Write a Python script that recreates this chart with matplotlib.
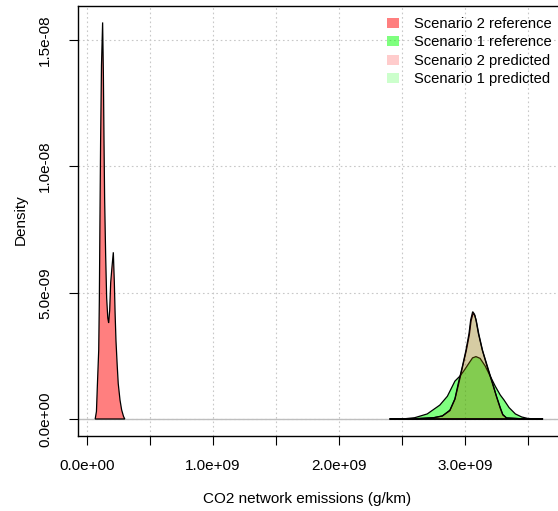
import matplotlib.pyplot as plt
import numpy as np
from matplotlib.patches import Patch

plt.rcParams['font.family'] = ['Liberation Sans', 'DejaVu Sans']

# density curves (x in 1e9 g/km, density in 1e-9)
s2_ref_x = [0.065, 0.075, 0.082, 0.093, 0.098, 0.103, 0.108, 0.115, 0.124, 0.130,
            0.135, 0.140, 0.148, 0.156, 0.165, 0.172, 0.180, 0.188, 0.198, 0.209,
            0.217, 0.223, 0.230, 0.240, 0.248, 0.262, 0.275, 0.290, 0.300]
s2_ref_y = [0.0, 0.3, 1.28, 2.73, 4.7, 8.0, 11.0, 14.0, 15.7, 13.7,
            11.0, 8.7, 6.5, 4.8, 4.0, 3.8, 4.3, 5.4, 6.0, 6.6,
            5.4, 4.2, 3.1, 2.1, 1.4, 0.75, 0.36, 0.1, 0.0]

s1_ref_x = [2.50, 2.60, 2.70, 2.80, 2.86, 2.92, 2.96, 2.99, 3.03, 3.06, 3.087,
            3.12, 3.16, 3.20, 3.24, 3.28, 3.31, 3.35, 3.40, 3.45, 3.50, 3.58]
s1_ref_y = [0.0, 0.05, 0.2, 0.55, 0.9, 1.5, 1.7, 1.9, 2.2, 2.42, 2.47,
            2.4, 2.1, 1.7, 1.3, 0.95, 0.75, 0.45, 0.2, 0.08, 0.02, 0.0]

s2_pred_x = [2.45, 2.60, 2.75, 2.82, 2.88, 2.92, 2.947, 2.98, 3.008, 3.032, 3.045,
             3.061, 3.075, 3.087, 3.106, 3.137, 3.18, 3.217, 3.25, 3.28, 3.30,
             3.33, 3.45, 3.58]
s2_pred_y = [0.0, 0.01, 0.05, 0.12, 0.35, 0.8, 1.42, 2.1, 2.73, 3.39, 3.92,
             4.25, 4.15, 3.92, 3.39, 2.73, 2.0, 1.42, 0.9, 0.45, 0.18,
             0.04, 0.01, 0.0]

s1_pred_x = [2.40, 2.60, 2.75, 2.82, 2.88, 2.92, 2.95, 2.98, 3.01, 3.035, 3.048,
             3.064, 3.078, 3.09, 3.11, 3.14, 3.18, 3.22, 3.25, 3.28, 3.30,
             3.33, 3.45, 3.62]
s1_pred_y = [0.0, 0.01, 0.05, 0.12, 0.33, 0.78, 1.4, 2.05, 2.7, 3.35, 3.88,
             4.18, 4.1, 3.88, 3.35, 2.7, 2.05, 1.4, 0.88, 0.42, 0.16,
             0.04, 0.01, 0.0]

legend_labels = ['Scenario 2 reference', 'Scenario 1 reference',
                 'Scenario 2 predicted', 'Scenario 1 predicted']
x_ticks = [0.0, 0.5, 1.0, 1.5, 2.0, 2.5, 3.0, 3.5]
x_tick_labels = ['0.0e+00', '', '1.0e+09', '', '2.0e+09', '', '3.0e+09', '']
y_ticks = [0.0, 5.0, 10.0, 15.0]
y_tick_labels = ['0.0e+00', '5.0e-09', '1.0e-08', '1.5e-08']

red_ref = (1, 0, 0, 0.5)
green_ref = (0, 1, 0, 0.5)
red_pred = (1, 0, 0, 0.2)
green_pred = (0, 1, 0, 0.2)

fig = plt.figure(figsize=(5.58, 5.11), dpi=100)
ax = fig.add_axes([78 / 558, 1 - 436 / 511, (575 - 78) / 558, (436 - 6) / 511])

ax.set_xlim(-0.0714, 3.873)
ax.set_ylim(-0.673, 16.35)

# grid
for xv in x_ticks:
    ax.axvline(xv, color='#c8c8c8', linestyle=(0, (1.5, 2.5)), linewidth=0.8, zorder=0)
for yv in y_ticks:
    ax.axhline(yv, color='#c8c8c8', linestyle=(0, (1.5, 2.5)), linewidth=0.8, zorder=0)
ax.axhline(0, color='#bebebe', linewidth=1.0, zorder=0.5)

# drawing order: references, then scenario 1 predicted, then scenario 2 predicted
layers = [(s2_ref_x, s2_ref_y, red_ref), (s1_ref_x, s1_ref_y, green_ref),
          (s1_pred_x, s1_pred_y, green_pred), (s2_pred_x, s2_pred_y, red_pred)]
for xs, ys, col in layers:
    ax.fill(xs, ys, facecolor=col, edgecolor='black', linewidth=0.9)

ax.set_xticks(x_ticks)
ax.set_xticklabels(x_tick_labels)
ax.set_yticks(y_ticks)
ax.set_yticklabels(y_tick_labels, rotation=90, va='center')
ax.tick_params(direction='out', length=6.5, width=0.8, labelsize=11)
ax.tick_params(axis='x', pad=10)
ax.tick_params(axis='y', pad=12)
for s in ax.spines.values():
    s.set_linewidth(1.0)

fig.text(21 / 558, 1 - 220 / 511, 'Density', rotation=90, ha='center', va='center', fontsize=11)
fig.text(307 / 558, 1 - 499 / 511, 'CO2 network emissions (g/km)', ha='center', va='center', fontsize=11)

handles = [Patch(facecolor=c, edgecolor='none') for c in [red_ref, green_ref, red_pred, green_pred]]
ax.legend(handles, legend_labels, loc='upper left', bbox_to_anchor=(387 / 558, 1 - 17 / 511),
          bbox_transform=fig.transFigure, frameon=False, fontsize=10.6,
          handlelength=0.8, handleheight=0.7, handletextpad=1.05, labelspacing=0.3,
          borderpad=0, borderaxespad=0)

fig.savefig('out.png', dpi=100)
